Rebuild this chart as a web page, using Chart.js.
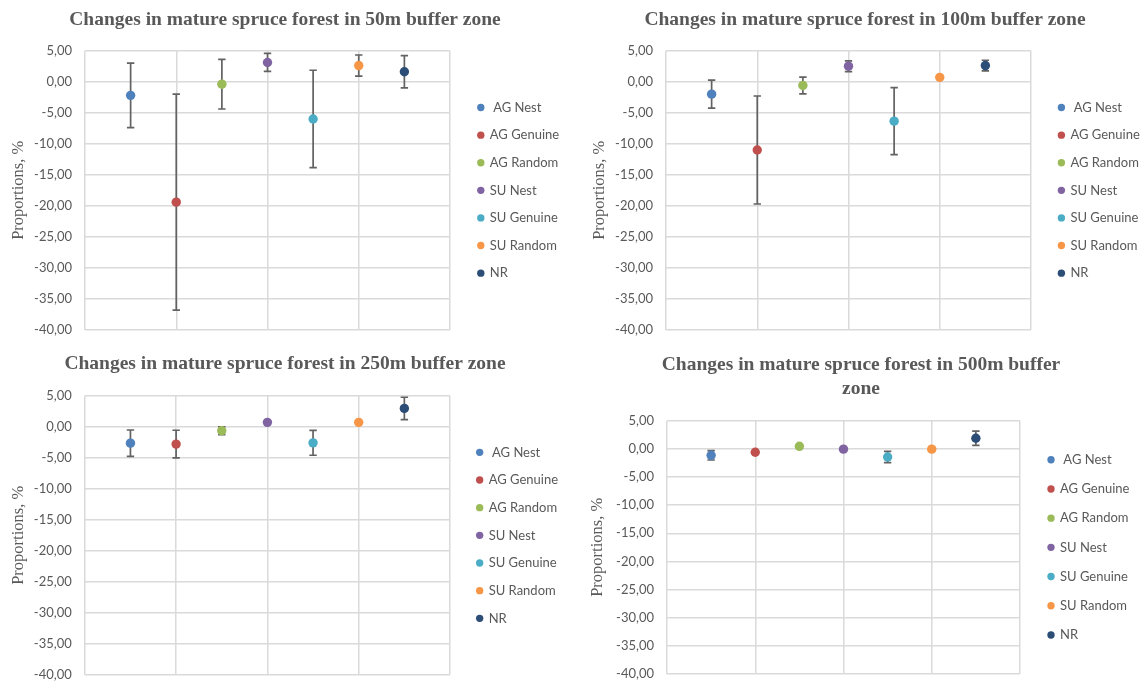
<!DOCTYPE html>
<html><head><meta charset="utf-8">
<script src="https://cdn.jsdelivr.net/npm/chart.js@4.4.0/dist/chart.umd.min.js"></script>
<style>
html,body{margin:0;padding:0;background:#fff;overflow:hidden;width:1142px;height:684px;position:relative;}
.box{position:absolute;}
canvas{display:block;}
</style></head><body>
<div class="box" style="left:0px;top:0px"><canvas id="c1" width="570" height="340"></canvas></div>
<div class="box" style="left:580px;top:0px"><canvas id="c2" width="570" height="340"></canvas></div>
<div class="box" style="left:0px;top:340px"><canvas id="c3" width="570" height="344"></canvas></div>
<div class="box" style="left:578px;top:340px"><canvas id="c4" width="566" height="344"></canvas></div>
<script>
// ---- data ----
const seriesNames = [' AG Nest', 'AG Genuine', 'AG Random', 'SU Nest', 'SU Genuine', 'SU Random', 'NR'];
const seriesX = [1, 2, 3, 4, 5, 6, 7];
const titles = [
  'Changes in mature spruce forest in 50m buffer zone',
  'Changes in mature spruce forest in 100m buffer zone',
  'Changes in mature spruce forest in 250m buffer zone',
  ['Changes in mature spruce forest in 500m buffer', 'zone']
];
const yAxisTitle = 'Proportions, %';
const mean50 = [-2.2, -19.4, -0.4, 3.1, -6.0, 2.6, 1.6];
const err50 = [5.2, 17.4, 4.0, 1.45, 7.85, 1.7, 2.6];
const mean100 = [-2.0, -11.0, -0.6, 2.5, -6.35, 0.7, 2.6];
const err100 = [2.25, 8.7, 1.35, 0.86, 5.4, 0, 0.86];
const mean250 = [-2.65, -2.8, -0.65, 0.7, -2.6, 0.7, 2.95];
const err250 = [2.12, 2.23, 0.62, 0, 2.0, 0, 1.8];
const mean500 = [-1.15, -0.6, 0.45, -0.05, -1.45, -0.05, 1.88];
const err500 = [0.83, 0, 0, 0, 1.0, 0, 1.28];

// ---- styles ----
const seriesColors = ['#4F81BD', '#C0504D', '#9BBB59', '#8064A2', '#4BACC6', '#F79646', '#2C4D75'];
const textColor = '#595959';
const gridColor = '#dadada';

function fmt(v) {
  if (Math.abs(v) < 1e-9) return '0,00';
  return v.toFixed(2).replace('.', ',');
}

const errorBars = {
  id: 'errorBars',
  beforeDatasetsDraw(chart) {
    const {ctx, scales: {x, y}} = chart;
    ctx.save();
    ctx.strokeStyle = '#626262';
    ctx.lineWidth = 1.7;
    chart.data.datasets.forEach(ds => {
      ds.data.forEach(p => {
        if (!p.e) return;
        const px = x.getPixelForValue(p.x);
        const top = y.getPixelForValue(p.y + p.e);
        const bot = y.getPixelForValue(p.y - p.e);
        ctx.beginPath();
        ctx.moveTo(px, top); ctx.lineTo(px, bot);
        ctx.moveTo(px - 3.7, top); ctx.lineTo(px + 3.7, top);
        ctx.moveTo(px - 3.7, bot); ctx.lineTo(px + 3.7, bot);
        ctx.stroke();
      });
    });
    ctx.restore();
  }
};

function makeChart(id, title, means, errs, L) {
  const datasets = seriesNames.map((name, i) => ({
    label: name,
    data: [{x: seriesX[i], y: means[i], e: errs[i]}],
    backgroundColor: seriesColors[i],
    borderColor: seriesColors[i],
    pointBackgroundColor: seriesColors[i],
    pointBorderWidth: 0,
    borderWidth: 0,
    pointRadius: 4.7,
    pointHoverRadius: 4.7,
    showLine: false,
    xAxisID: 'x',
    yAxisID: 'y'
  }));
  new Chart(document.getElementById(id), {
    type: 'scatter',
    data: {datasets},
    plugins: [errorBars],
    options: {
      responsive: false,
      animation: false,
      devicePixelRatio: 1,
      layout: {padding: {left: L.p, right: L.p, top: 0, bottom: L.pb}},
      plugins: {
        tooltip: {enabled: false},
        title: {
          display: true,
          text: title,
          color: textColor,
          font: {family: 'Liberation Serif', size: 19.5, weight: 'bold', lineHeight: 1.25},
          padding: {top: L.tt, bottom: L.tb}
        },
        legend: {
          position: 'right',
          align: 'center',
          fullSize: false,
          maxWidth: L.m,
          labels: {
            usePointStyle: true,
            pointStyle: 'circle',
            boxWidth: 5,
            boxHeight: 5.2,
            padding: L.lp,
            color: textColor,
            font: {family: 'Lato', size: 13}
          }
        }
      },
      scales: {
        x: {
          type: 'linear', min: 0, max: 8,
          ticks: {display: false, stepSize: 2},
          grid: {color: gridColor, lineWidth: 1.5, drawTicks: false},
          border: {display: false}
        },
        y: {
          type: 'linear', position: 'left', min: -40, max: 5,
          ticks: {stepSize: 5, padding: 13, color: textColor, font: {family: 'Lato', size: 13}, callback: v => fmt(v)},
          grid: {color: gridColor, lineWidth: 1.5, drawTicks: false},
          border: {display: false},
          title: {display: true, text: yAxisTitle, color: textColor,
            font: {family: 'Liberation Serif', size: 16.5}, padding: {top: L.ytp, bottom: 0}},
          afterFit(s) { s.width = L.yw; s.paddingTop = 0; s.paddingBottom = 0; }
        },
        sp: {
          type: 'linear', axis: 'y', position: 'right', display: true,
          grid: {display: false, drawTicks: false},
          ticks: {display: false},
          border: {display: false},
          afterFit(s) { s.width = L.sp; }
        }
      }
    }
  });
}

makeChart('c1', titles[0], mean50, err50, {p: 8.8, pb: 10, tt: 7.8, tb: 18.5, m: 97.5, lp: 14.6, ytp: 0.3, yw: 76.2, sp: 13.7});
makeChart('c2', titles[1], mean100, err100, {p: 8.2, pb: 10, tt: 7.8, tb: 18.5, m: 97.5, lp: 14.6, ytp: 1.2, yw: 77.8, sp: 13.3});
makeChart('c3', titles[2], mean250, err250, {p: 10, pb: 9, tt: 11.8, tb: 19.5, m: 97.5, lp: 14.67, ytp: -1.6, yw: 74.8, sp: 12.5});
makeChart('c4', titles[3], mean500, err500, {p: 9.7, pb: 10, tt: 12.8, tb: 19.15, m: 102, lp: 16.2, ytp: -0.1, yw: 79.3, sp: 12.3});
</script>
</body></html>
